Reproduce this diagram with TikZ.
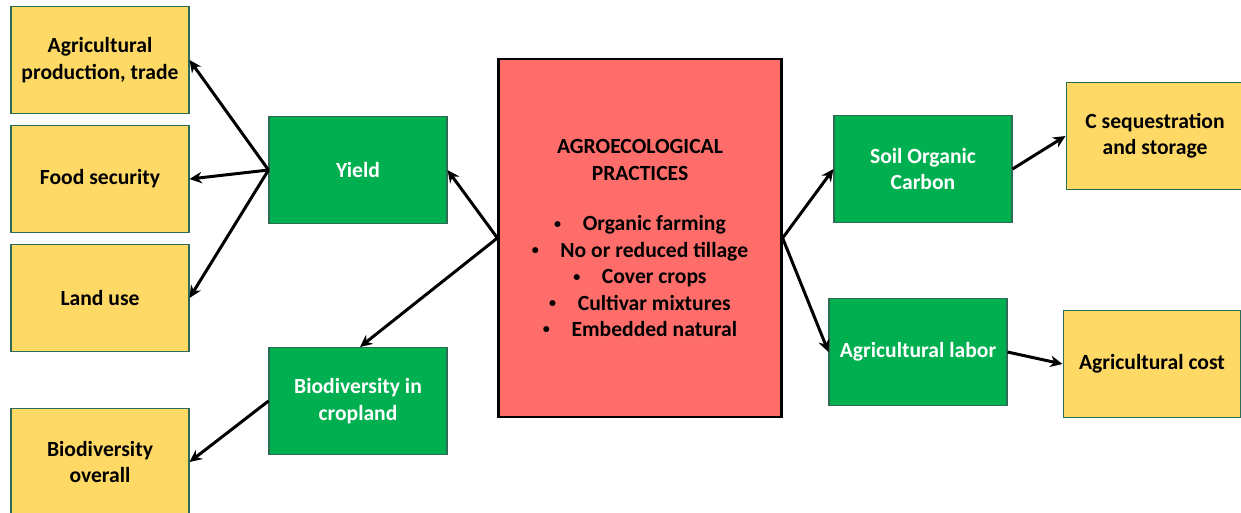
\documentclass[tikz,border=0pt]{standalone}
\usepackage{fontspec}
\setmainfont{Carlito}
\usetikzlibrary{arrows.meta, positioning}

\definecolor{outyellow}{HTML}{FFD966}
\definecolor{midgreen}{HTML}{00B050}
\definecolor{corered}{HTML}{FF6D6A}
\definecolor{boxedge}{HTML}{2E6B55}

\newcommand{\pbullet}{\raisebox{0.25ex}{\footnotesize\textbullet}\hspace{1em}}

\begin{document}
\begin{tikzpicture}[
    x=0.02cm, y=-0.02cm,
    font=\fontsize{12.3}{15}\selectfont\bfseries,
    outcome/.style={
        rectangle,
        draw=boxedge,
        fill=outyellow,
        minimum width=3.56cm,
        minimum height=2.14cm,
        line width=0.6pt,
        align=center
    },
    driver/.style={
        rectangle,
        draw=boxedge,
        fill=midgreen,
        text=white,
        minimum width=3.56cm,
        minimum height=2.14cm,
        line width=0.6pt,
        align=center
    },
    practice/.style={
        rectangle,
        draw=black,
        fill=corered,
        minimum width=5.66cm,
        minimum height=7.16cm,
        line width=1.3pt,
        align=center
    },
    arrow/.style={-{Stealth[length=7pt, width=6.5pt]}, line width=1.7pt, draw=black}
]

\useasboundingbox (0,0) rectangle (1241,512);
\clip (0,0) rectangle (1241,512);

% Practicas (centro)
\node[practice] (practices) at (640,238) {AGROECOLOGICAL\\PRACTICES\\[14pt]
    \pbullet Organic farming\\
    \pbullet No or reduced tillage\\
    \pbullet Cover crops\\
    \pbullet Cultivar mixtures\\
    \pbullet Embedded natural};

% Efectos directos
\node[driver] (yield) at (358,170) {Yield};
\node[driver] (biocrop) at (358,401) {Biodiversity in\\cropland};
\node[driver] (soc) at (923,169) {Soil Organic\\Carbon};
\node[driver] (labor) at (918,352) {Agricultural labor};

% Efectos indirectos
\node[outcome] (agprod) at (100,60) {Agricultural\\production, trade};
\node[outcome] (food) at (100,179) {Food security};
\node[outcome] (landuse) at (100,298) {Land use};
\node[outcome] (bioall) at (100,462) {Biodiversity\\overall};
\node[outcome] (cseq) at (1155,136) {C sequestration\\and storage};
\node[outcome] (cost) at (1152,364) {Agricultural cost};

% Flechas desde las practicas
\draw[arrow] (practices.west) -- (yield.east);
\draw[arrow] (practices.west) -- ([xshift=0.04cm]biocrop.north);
\draw[arrow] (practices.east) -- (soc.west);
\draw[arrow] (practices.east) -- (labor.west);

% Flechas hacia los efectos indirectos
\draw[arrow] (yield.west) -- (agprod.east);
\draw[arrow] (yield.west) -- (food.east);
\draw[arrow] (yield.west) -- (landuse.east);
\draw[arrow] (biocrop.west) -- (bioall.east);
\draw[arrow] (soc.east) -- (cseq.west);
\draw[arrow] (labor.east) -- (cost.west);

\end{tikzpicture}
\end{document}
